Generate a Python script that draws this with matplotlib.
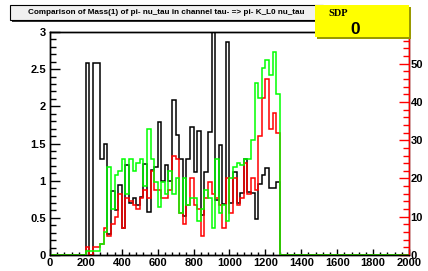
import matplotlib
matplotlib.use("Agg")
import matplotlib.pyplot as plt
import numpy as np
from matplotlib.patches import Rectangle

W, H = 428, 271

# histogram binning: 100 bins of 20 from 0 to 2000, filled bins start at 200
edges = np.arange(0, 2001, 20)
first_bin = 10

# black: ratio (left axis)
ratio = [2.58, 0, 2.58, 2.58, 1.29, 1.50, 0.28, 0.86, 0.61, 0.94,
         0.36, 1.21, 0.70, 0.77, 0.67, 0.78, 1.22, 0.58, 1.15, 1.18,
         1.79, 1.00, 1.21, 0.99, 2.09, 1.62, 1.29, 0.52, 1.29, 1.72,
         1.11, 1.67, 0.54, 1.12, 1.66, 3.00, 0.74, 1.48, 0.69, 2.87,
         0.70, 1.12, 0.70, 0.83, 1.29, 0.85, 0.84, 0.48, 0.96, 1.08,
         1.17, 0.90, 0.90, 0.98]
# red and green: counts (right axis)
red = [2, 0, 2, 2, 3, 7, 5, 8, 10, 16,
       7, 15, 14, 13, 12, 15, 17, 15, 22, 17,
       17, 15, 15, 17, 26, 25, 11, 8, 13, 20,
       13, 12, 5, 15, 19, 16, 15, 13, 7, 20,
       11, 20, 13, 15, 24, 16, 20, 17, 31, 41,
       46, 33, 37, 32]
green = [1, 1, 1, 1, 3, 6, 23, 12, 21, 22,
         25, 16, 25, 22, 24, 25, 18, 33, 25, 19,
         12.5, 19, 16, 22, 16, 20, 11, 20, 13, 15,
         15, 9, 12, 17, 15, 7, 25, 11, 13, 9,
         20, 23, 24, 23.5, 25, 25, 30, 45, 41, 49,
         51, 47, 53, 42]

title = "Comparison of Mass(1) of pi- nu_tau in channel tau- => pi- K_L0 nu_tau"


def full(vals):
    out = np.zeros(len(edges) - 1)
    out[first_bin:first_bin + len(vals)] = vals
    return out


def fx(px):
    return px / W


def fy(py):
    return 1 - py / H


fig = plt.figure(figsize=(W / 100, H / 100), dpi=100)
fig.patch.set_facecolor("white")

ax = fig.add_axes([fx(50), fy(255), (409 - 50) / W, (255 - 32) / H])
ax.stairs(full(ratio), edges, color="black", lw=1.1)
ax.set_xlim(0, 2000)
ax.set_ylim(0, 3)

ax2 = ax.twinx()
ax2.stairs(full(red), edges, color="#ff0000", lw=1.1)
ax2.stairs(full(green), edges, color="#00ff00", lw=1.1)
ax2.set_ylim(0, 58.3)

font = dict(family="Liberation Sans", weight="bold", size=8)

ax.set_xticks(np.arange(0, 2001, 200))
ax.set_xticklabels([str(v) for v in range(0, 2001, 200)], **font)
ax.set_xticks(np.arange(0, 2001, 40), minor=True)
ax.set_yticks(np.arange(0, 3.01, 0.5))
ax.set_yticklabels(["0", "0.5", "1", "1.5", "2", "2.5", "3"], **font)
ax.set_yticks(np.arange(0, 3.01, 0.1), minor=True)
ax.tick_params(axis="x", which="major", direction="in", length=4, width=1, pad=2)
ax.tick_params(axis="x", which="minor", direction="in", length=2.2, width=1)
ax.tick_params(axis="y", which="major", direction="in", length=7.5, width=1, pad=3)
ax.tick_params(axis="y", which="minor", direction="in", length=4, width=1)

ax2.set_yticks(np.arange(0, 51, 10))
ax2.set_yticklabels([str(v) for v in range(0, 51, 10)], **font)
ax2.set_yticks(np.arange(0, 58.3, 2), minor=True)
ax2.tick_params(axis="y", which="major", direction="in", length=7.5, width=1,
                color="#ff0000", pad=1)
ax2.tick_params(axis="y", which="minor", direction="in", length=4, width=1,
                color="#ff0000")
for a in (ax, ax2):
    for s in a.spines.values():
        s.set_linewidth(1)
ax2.spines["right"].set_color("#ff0000")

# title box with shadow
fig.add_artist(Rectangle((fx(12), fy(22)), (323 - 10) / W, 15 / H,
                         transform=fig.transFigure, facecolor="#333333",
                         edgecolor="none", zorder=10))
fig.add_artist(Rectangle((fx(10), fy(20)), (323 - 10) / W, 15 / H,
                         transform=fig.transFigure, facecolor="#f0f0f0",
                         edgecolor="black", lw=0.8, zorder=11))
fig.text(fx(166), fy(12.5), title, ha="center", va="center",
         family="Liberation Sans", weight="bold", size=5.9, zorder=12)

# SDP box
fig.add_artist(Rectangle((fx(317), fy(39)), (409 - 315) / W, 32 / H,
                         transform=fig.transFigure, facecolor="#9a9a00",
                         edgecolor="none", zorder=10))
fig.add_artist(Rectangle((fx(315), fy(37)), (409 - 315) / W, 32 / H,
                         transform=fig.transFigure, facecolor="#ffff00",
                         edgecolor="none", zorder=11))
fig.text(fx(328), fy(14), "SDP", ha="left", va="center",
         family="Liberation Serif", weight="bold", size=7.5, zorder=12)
fig.text(fx(355), fy(29), "0", ha="center", va="center",
         family="Liberation Sans", weight="bold", size=12.5, zorder=12)

fig.savefig("out.png", dpi=100)
